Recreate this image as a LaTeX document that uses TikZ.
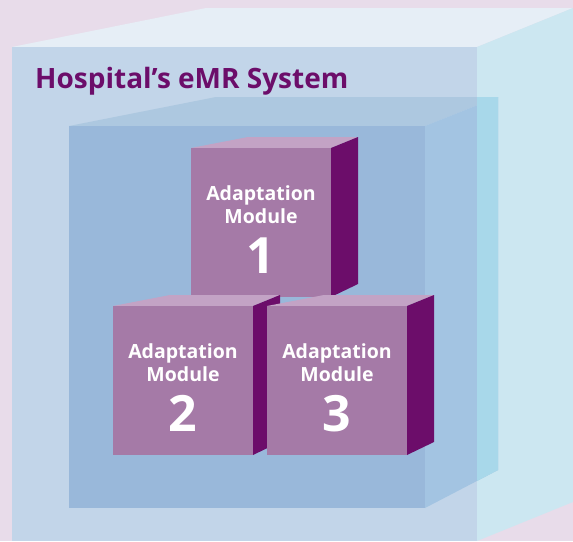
\documentclass[tikz,border=0pt]{standalone}
\usepackage{fontspec}
\setsansfont{Open Sans}
\definecolor{bgpink}{HTML}{E8DCEA}
\definecolor{outertop}{HTML}{E6EEF6}
\definecolor{outerfront}{HTML}{C2D5E9}
\definecolor{outerside}{HTML}{CCE7F1}
\definecolor{innertop}{HTML}{ADC8E0}
\definecolor{innerfront}{HTML}{99B8DA}
\definecolor{innerside}{HTML}{A3C4E2}
\definecolor{overlap}{HTML}{A8D8EA}
\definecolor{cubetop}{HTML}{C3A3C5}
\definecolor{cubefront}{HTML}{A57AA7}
\definecolor{cubeside}{HTML}{6C0D6A}
\tikzset{
  title/.style={text=cubeside, font=\sffamily\bfseries\fontsize{28}{30}\selectfont, inner sep=0pt},
  cubetext/.style={text=white, font=\sffamily\bfseries\fontsize{19.5}{22}\selectfont, inner sep=0pt},
  cubenum/.style={text=white, font=\sffamily\bfseries\fontsize{50}{52}\selectfont, inner sep=0pt},
}
\begin{document}
\begin{tikzpicture}[x=1pt,y=-1pt]
  \fill[bgpink] (0,0) rectangle (573,541);
  \useasboundingbox (0,0) rectangle (573,541);
  % outer box
  \fill[outertop] (12,47) -- (206,8) -- (573,8) -- (477,47) -- cycle;
  \fill[outerfront] (12,47) rectangle (477,541);
  \fill[outerside] (477,47) -- (573,8) -- (573,502) -- (477,541) -- cycle;
  \node[title, anchor=base west] (system) at (35,88) {Hospital’s eMR System};
  % inner box
  \fill[innertop] (69,126) -- (216,97) -- (498,97) -- (425,126) -- cycle;
  \fill[innerfront] (69,126) rectangle (425,508);
  \fill[innerside] (425,126) -- (498,97) -- (498,470) -- (425,508) -- cycle;
  \fill[overlap] (477,97) -- (498,97) -- (498,470) -- (477,481) -- cycle;
  % modules
  \foreach \x/\y/\n in {191/148/1, 113/306/2, 267/306/3} {
    \fill[cubetop] (\x,\y) -- (\x+57,\y-11) -- (\x+167,\y-11) -- (\x+140,\y) -- cycle;
    \fill[cubefront] (\x,\y) rectangle (\x+140,\y+149);
    \fill[cubeside] (\x+140,\y) -- (\x+167,\y-11) -- (\x+167,\y+136) -- (\x+140,\y+149) -- cycle;
    \node[cubetext, anchor=base] (adapt\n) at (\x+70,\y+52) {Adaptation};
    \node[cubetext, anchor=base] (module\n) at (\x+70,\y+75) {Module};
    \node[cubenum, anchor=base] (num\n) at (\x+70,\y+125) {\n};
  }
\end{tikzpicture}
\end{document}
